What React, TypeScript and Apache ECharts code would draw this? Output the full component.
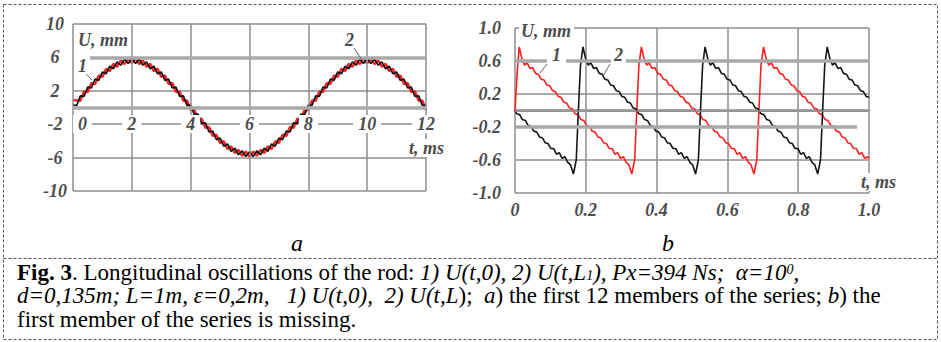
import React, { useEffect, useRef } from "react";
import * as echarts from "echarts";

// ---------- Chart a: first 12 members of the series (t in ms, U in mm) ----------
const A_STEP_MS = 0.125;
const A_X_TICKS = { min: 0, max: 12, interval: 2 };
const A_Y_TICKS = { min: -10, max: 10, interval: 4 };
// curve 2 (red), U(t,L)
const A_RED = [
  0.9, 0.85, 0.79, 1.93, 1.84, 2.94, 2.81, 3.85, 3.66, 4.63, 4.36, 5.24, 4.87, 5.66, 5.19, 5.87, 5.3,
  5.87, 5.19, 5.66, 4.87, 5.24, 4.36, 4.63, 3.66, 3.85, 2.81, 2.94, 1.84, 1.93, 0.79, 0.85, -0.3,
  -0.25, -1.39, -1.33, -2.44, -2.34, -3.41, -3.25, -4.26, -4.03, -4.96, -4.64, -5.47, -5.06, -5.79, -5.27, -5.9,
  -5.27, -5.79, -5.06, -5.47, -4.64, -4.96, -4.03, -4.26, -3.25, -3.41, -2.34, -2.44, -1.33, -1.39, -0.25, -0.3,
  0.85, 0.79, 1.93, 1.84, 2.94, 2.81, 3.85, 3.66, 4.63, 4.36, 5.24, 4.87, 5.66, 5.19, 5.87, 5.3,
  5.87, 5.19, 5.66, 4.87, 5.24, 4.36, 4.63, 3.66, 3.85, 2.81, 2.94, 1.84, 1.93, 0.79, 0.85, -0.3,
];
// curve 1 (black), U(t,0)
const A_BLACK = [
  0.3, 0.25, 1.39, 1.33, 2.44, 2.34, 3.41, 3.25, 4.26, 4.03, 4.96, 4.64, 5.47, 5.06, 5.79, 5.27, 5.9,
  5.27, 5.79, 5.06, 5.47, 4.64, 4.96, 4.03, 4.26, 3.25, 3.41, 2.34, 2.44, 1.33, 1.39, 0.25, 0.3,
  -0.85, -0.79, -1.93, -1.84, -2.94, -2.81, -3.85, -3.66, -4.63, -4.36, -5.24, -4.87, -5.66, -5.19, -5.87, -5.3,
  -5.87, -5.19, -5.66, -4.87, -5.24, -4.36, -4.63, -3.66, -3.85, -2.81, -2.94, -1.84, -1.93, -0.79, -0.85, 0.3,
  0.25, 1.39, 1.33, 2.44, 2.34, 3.41, 3.25, 4.26, 4.03, 4.96, 4.64, 5.47, 5.06, 5.79, 5.27, 5.9,
  5.27, 5.79, 5.06, 5.47, 4.64, 4.96, 4.03, 4.26, 3.25, 3.41, 2.34, 2.44, 1.33, 1.39, 0.25, 0.3,
];

// ---------- Chart b: first member of the series missing ----------
const B_X_TICKS = { min: 0, max: 1, interval: 0.2 };
const B_Y_TICKS = { min: -1, max: 1, interval: 0.4 };
const B_RED: [number, number][] = [
  [0, 0], [0.006, 0.45], [0.012, 0.77], [0.02, 0.62], [0.027, 0.55], [0.034, 0.58], [0.042, 0.51], [0.05, 0.52],
  [0.058, 0.45], [0.066, 0.44], [0.074, 0.38], [0.082, 0.37], [0.09, 0.31], [0.098, 0.3], [0.106, 0.24], [0.114, 0.23],
  [0.122, 0.17], [0.13, 0.16], [0.138, 0.1], [0.146, 0.09], [0.154, 0.03], [0.162, 0.02], [0.17, -0.04], [0.178, -0.05],
  [0.186, -0.11], [0.194, -0.12], [0.202, -0.18], [0.21, -0.19], [0.218, -0.25], [0.226, -0.26], [0.234, -0.32], [0.242, -0.33],
  [0.25, -0.39], [0.258, -0.4], [0.266, -0.46], [0.274, -0.46], [0.282, -0.53], [0.29, -0.51], [0.298, -0.58], [0.306, -0.56],
  [0.314, -0.63], [0.322, -0.66], [0.33, -0.77], [0.338, -0.6], [0.344, 0], [0.35, 0.55],
  [0.357, 0.77], [0.365, 0.62], [0.372, 0.55], [0.379, 0.58], [0.387, 0.51], [0.395, 0.52], [0.403, 0.45], [0.411, 0.44],
  [0.419, 0.38], [0.427, 0.37], [0.435, 0.31], [0.443, 0.3], [0.451, 0.24], [0.459, 0.23], [0.467, 0.17], [0.475, 0.16],
  [0.483, 0.1], [0.491, 0.09], [0.499, 0.03], [0.507, 0.02], [0.515, -0.04], [0.523, -0.05], [0.531, -0.11], [0.539, -0.12],
  [0.547, -0.18], [0.555, -0.19], [0.563, -0.25], [0.571, -0.26], [0.579, -0.32], [0.587, -0.33], [0.595, -0.39], [0.603, -0.4],
  [0.611, -0.46], [0.619, -0.46], [0.627, -0.53], [0.635, -0.51], [0.643, -0.58], [0.651, -0.56], [0.659, -0.63], [0.667, -0.66],
  [0.675, -0.77], [0.683, -0.6], [0.689, 0], [0.695, 0.55],
  [0.702, 0.77], [0.71, 0.62], [0.717, 0.55], [0.724, 0.58], [0.732, 0.51], [0.74, 0.52], [0.748, 0.45], [0.756, 0.44],
  [0.764, 0.38], [0.772, 0.37], [0.78, 0.31], [0.788, 0.3], [0.796, 0.24], [0.804, 0.23], [0.812, 0.17], [0.82, 0.16],
  [0.828, 0.1], [0.836, 0.09], [0.844, 0.03], [0.852, 0.02], [0.86, -0.04], [0.868, -0.05], [0.876, -0.11], [0.884, -0.12],
  [0.892, -0.18], [0.9, -0.19], [0.908, -0.25], [0.916, -0.26], [0.924, -0.32], [0.932, -0.33], [0.94, -0.39], [0.948, -0.4],
  [0.956, -0.46], [0.964, -0.46], [0.972, -0.53], [0.98, -0.51], [0.988, -0.58], [0.996, -0.56], [1.0, -0.58],
];
const B_BLACK: [number, number][] = [
  [0, 0], [0.005, -0.04], [0.013, -0.05], [0.021, -0.11], [0.029, -0.12], [0.037, -0.18], [0.045, -0.19], [0.053, -0.25],
  [0.061, -0.26], [0.069, -0.32], [0.077, -0.33], [0.085, -0.39], [0.093, -0.4], [0.101, -0.46], [0.109, -0.46], [0.117, -0.53],
  [0.125, -0.51], [0.133, -0.58], [0.141, -0.56], [0.149, -0.63], [0.157, -0.66], [0.165, -0.77], [0.173, -0.6], [0.179, 0],
  [0.185, 0.55], [0.192, 0.77],
  [0.2, 0.62], [0.207, 0.55], [0.214, 0.58], [0.222, 0.51], [0.23, 0.52], [0.238, 0.45], [0.246, 0.44], [0.254, 0.38],
  [0.262, 0.37], [0.27, 0.31], [0.278, 0.3], [0.286, 0.24], [0.294, 0.23], [0.302, 0.17], [0.31, 0.16], [0.318, 0.1],
  [0.326, 0.09], [0.334, 0.03], [0.342, 0.02], [0.35, -0.04], [0.358, -0.05], [0.366, -0.11], [0.374, -0.12], [0.382, -0.18],
  [0.39, -0.19], [0.398, -0.25], [0.406, -0.26], [0.414, -0.32], [0.422, -0.33], [0.43, -0.39], [0.438, -0.4], [0.446, -0.46],
  [0.454, -0.46], [0.462, -0.53], [0.47, -0.51], [0.478, -0.58], [0.486, -0.56], [0.494, -0.63], [0.502, -0.66], [0.51, -0.77],
  [0.518, -0.6], [0.524, 0], [0.53, 0.55], [0.537, 0.77],
  [0.545, 0.62], [0.552, 0.55], [0.559, 0.58], [0.567, 0.51], [0.575, 0.52], [0.583, 0.45], [0.591, 0.44], [0.599, 0.38],
  [0.607, 0.37], [0.615, 0.31], [0.623, 0.3], [0.631, 0.24], [0.639, 0.23], [0.647, 0.17], [0.655, 0.16], [0.663, 0.1],
  [0.671, 0.09], [0.679, 0.03], [0.687, 0.02], [0.695, -0.04], [0.703, -0.05], [0.711, -0.11], [0.719, -0.12], [0.727, -0.18],
  [0.735, -0.19], [0.743, -0.25], [0.751, -0.26], [0.759, -0.32], [0.767, -0.33], [0.775, -0.39], [0.783, -0.4], [0.791, -0.46],
  [0.799, -0.46], [0.807, -0.53], [0.815, -0.51], [0.823, -0.58], [0.831, -0.56], [0.839, -0.63], [0.847, -0.66], [0.855, -0.77],
  [0.863, -0.6], [0.869, 0], [0.875, 0.55], [0.882, 0.77],
  [0.89, 0.62], [0.897, 0.55], [0.904, 0.58], [0.912, 0.51], [0.92, 0.52], [0.928, 0.45], [0.936, 0.44], [0.944, 0.38],
  [0.952, 0.37], [0.96, 0.31], [0.968, 0.3], [0.976, 0.24], [0.984, 0.23], [0.992, 0.17], [1.0, 0.16],
];

const SERIF = "Liberation Serif";
const AXIS_TXT = "#4d4d4d";
const GRID_C = "#8e8e8e";
const THICK_C = "#a9a9a9";
const RED = "#ff1f1f";
const BLACK = "#151515";
const CAP_FS = 23;
const CAP_LH = 20;

const axisLabelStyle = {
  fontFamily: SERIF,
  fontStyle: "italic" as const,
  fontWeight: "bold" as const,
  fontSize: 18,
  color: AXIS_TXT,
};

export default function App() {
  const ref = useRef<HTMLDivElement>(null);
  useEffect(() => {
    document.body.style.margin = "0";
    if (!ref.current) return;
    const chart = echarts.init(ref.current, undefined, { renderer: "svg" });

    const txt = (text: string, x: number, y: number, extra: any = {}) => ({
      type: "text",
      x,
      y,
      z: 50,
      style: {
        text,
        fontFamily: SERIF,
        fontStyle: "italic",
        fontWeight: "bold",
        fontSize: 18,
        fill: AXIS_TXT,
        verticalAlign: "middle",
        ...extra,
      },
    });
    const leader = (x1: number, y1: number, x2: number, y2: number) => ({
      type: "line",
      z: 50,
      shape: { x1, y1, x2, y2 },
      style: { stroke: "#666", lineWidth: 1 },
    });

    const capRich = {
      n: { fontFamily: SERIF, fontSize: CAP_FS, color: "#000", lineHeight: CAP_LH },
      b: { fontFamily: SERIF, fontSize: CAP_FS, fontWeight: "bold", color: "#000", lineHeight: CAP_LH },
      i: { fontFamily: SERIF, fontSize: CAP_FS, fontStyle: "italic", color: "#000", lineHeight: CAP_LH },
      sub: { fontFamily: SERIF, fontSize: 14, fontStyle: "italic", color: "#000", verticalAlign: "bottom", lineHeight: CAP_LH },
      sup: { fontFamily: SERIF, fontSize: 14, fontStyle: "italic", color: "#000", verticalAlign: "top", lineHeight: CAP_LH },
    };
    const capLine = (text: string, y: number) => ({
      type: "text",
      x: 17,
      y,
      z: 50,
      style: { text, rich: capRich, verticalAlign: "middle", fill: "#000", fontFamily: SERIF, fontSize: CAP_FS, lineHeight: CAP_LH },
    });

    chart.setOption({
      animation: false,
      backgroundColor: "#fff",
      grid: [
        { left: 73, top: 24, width: 353, height: 167 },
        { left: 515, top: 28, width: 354, height: 165 },
      ],
      xAxis: [
        {
          type: "value",
          gridIndex: 0,
          ...A_X_TICKS,
          offset: -67,
          axisLine: { show: false },
          axisTick: { show: false },
          axisLabel: {
            ...axisLabelStyle,
            margin: 0,
            verticalAlign: "middle",
            backgroundColor: "#fff",
            padding: [0, 5],
            alignMinLabel: "left",
          },
          splitLine: { show: true, lineStyle: { color: GRID_C, width: 1.5 } },
          z: 5,
        },
        {
          type: "value",
          gridIndex: 1,
          ...B_X_TICKS,
          axisLine: { show: true, lineStyle: { color: THICK_C, width: 3 } },
          axisTick: { show: true, length: 4, lineStyle: { color: THICK_C, width: 1.5 } },
          axisLabel: {
            ...axisLabelStyle,
            margin: 8,
            formatter: (v: number) => (v === 0 ? "0" : v.toFixed(1)),
          },
          splitLine: { show: true, lineStyle: { color: GRID_C, width: 1.5 } },
        },
      ],
      yAxis: [
        {
          type: "value",
          gridIndex: 0,
          ...A_Y_TICKS,
          axisLine: { show: false },
          axisTick: { show: false },
          axisLabel: { ...axisLabelStyle, align: "center", margin: 18 },
          splitLine: {
            show: true,
            lineStyle: { color: [GRID_C, GRID_C, GRID_C, GRID_C, "rgba(0,0,0,0)", GRID_C], width: 1.5 },
          },
        },
        {
          type: "value",
          gridIndex: 1,
          ...B_Y_TICKS,
          axisLine: { show: false },
          axisTick: { show: false },
          axisLabel: {
            ...axisLabelStyle,
            margin: 14,
            formatter: (v: number) => v.toFixed(1),
          },
          splitLine: {
            show: true,
            lineStyle: { color: [GRID_C, GRID_C, "rgba(0,0,0,0)", GRID_C, GRID_C, GRID_C], width: 1.5 },
          },
        },
      ],
      series: [
        {
          type: "line",
          xAxisIndex: 0,
          yAxisIndex: 0,
          data: [[0, 0]],
          showSymbol: false,
          lineStyle: { width: 0 },
          silent: true,
          z: 1,
          markLine: {
            silent: true,
            symbol: "none",
            label: { show: false },
            lineStyle: { color: THICK_C, width: 3.5, type: "solid" },
            data: [{ yAxis: 0 }, [{ coord: [0.58, 6] }, { coord: [12, 6] }]],
          },
        },
        {
          type: "line",
          name: "2",
          xAxisIndex: 0,
          yAxisIndex: 0,
          data: A_RED.map((v, i) => [i * A_STEP_MS, v]),
          showSymbol: false,
          lineStyle: { color: RED, width: 2.4 },
          z: 3,
        },
        {
          type: "line",
          name: "1",
          xAxisIndex: 0,
          yAxisIndex: 0,
          data: A_BLACK.map((v, i) => [i * A_STEP_MS, v]),
          showSymbol: false,
          lineStyle: { color: BLACK, width: 1.7 },
          z: 4,
        },
        {
          type: "line",
          xAxisIndex: 1,
          yAxisIndex: 1,
          data: [[0, 0]],
          showSymbol: false,
          lineStyle: { width: 0 },
          silent: true,
          z: 1,
          markLine: {
            silent: true,
            symbol: "none",
            label: { show: false },
            lineStyle: { color: THICK_C, width: 3.5, type: "solid" },
            data: [
              { yAxis: 0.6 },
              [{ coord: [0, -0.2] }, { coord: [0.966, -0.2] }],
              { yAxis: 0, lineStyle: { color: GRID_C, width: 1.5 } },
            ],
          },
        },
        {
          type: "line",
          name: "1b",
          xAxisIndex: 1,
          yAxisIndex: 1,
          data: B_RED,
          showSymbol: false,
          lineStyle: { color: RED, width: 1.6 },
          z: 3,
        },
        {
          type: "line",
          name: "2b",
          xAxisIndex: 1,
          yAxisIndex: 1,
          data: B_BLACK,
          showSymbol: false,
          lineStyle: { color: BLACK, width: 1.6 },
          z: 4,
        },
      ],
      graphic: [
        {
          type: "rect",
          z: 60,
          shape: { x: 3.5, y: 4.5, width: 934, height: 335 },
          style: { fill: "none", stroke: "#555", lineWidth: 1, lineDash: [3, 2] },
        },
        {
          type: "line",
          z: 60,
          shape: { x1: 3.5, y1: 258.5, x2: 937.5, y2: 258.5 },
          style: { stroke: "#555", lineWidth: 1, lineDash: [3, 2] },
        },
        txt("U, mm", 78, 40, { backgroundColor: "#fff" }),
        txt("t, ms", 407, 148, { backgroundColor: "#fff", padding: [0, 2] }),
        txt("1", 78, 66),
        leader(86, 74, 92, 80),
        txt("2", 345, 40),
        leader(354, 48, 362, 60),
        txt("U, mm", 519, 31, { backgroundColor: "#fff", padding: [0, 3, 0, 2] }),
        txt("t, ms", 861, 182, { backgroundColor: "#fff" }),
        txt("1", 547, 55, { backgroundColor: "#fff", padding: [0, 5] }),
        leader(547, 64, 540, 73),
        txt("2", 611, 55, { backgroundColor: "#fff", padding: [0, 3] }),
        leader(610, 64, 603, 76),
        {
          type: "text",
          x: 297,
          y: 243,
          z: 50,
          style: { text: "a", fontFamily: SERIF, fontStyle: "italic", fontSize: 24, fill: "#000", align: "center", verticalAlign: "middle" },
        },
        {
          type: "text",
          x: 668,
          y: 243,
          z: 50,
          style: { text: "b", fontFamily: SERIF, fontStyle: "italic", fontSize: 24, fill: "#000", align: "center", verticalAlign: "middle" },
        },
        capLine(
          "{b|Fig. 3}{n|. Longitudinal oscillations of the rod: }{i|1) U(t,0), 2) U(t,L}{sub|1}{i|), Px=394 Ns;  α=10}{sup|0}{i|,}",
          272
        ),
        capLine(
          "{i|d=0,135m; L=1m, ε=0,2m,   1) U(t,0),  2) U(t,L}{n|);  }{i|a}{n|) the first 12 members of the series; }{i|b}{n|) the}",
          295.5
        ),
        capLine("{n|first member of the series is missing.}", 319),
      ],
    });
    return () => chart.dispose();
  }, []);
  return <div ref={ref} style={{ width: 941, height: 342 }} />;
}
